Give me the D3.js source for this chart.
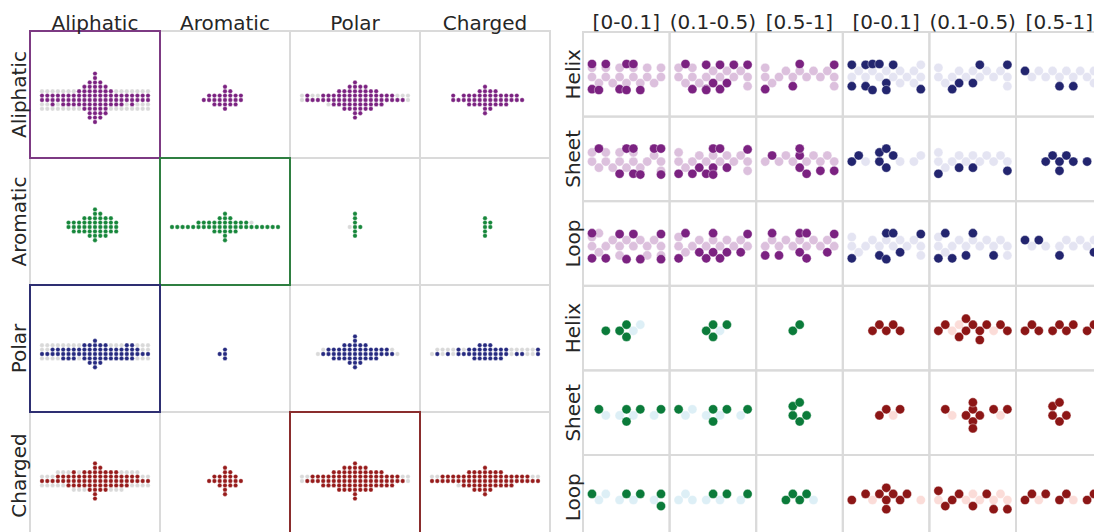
<!DOCTYPE html>
<html><head><meta charset="utf-8">
<script src="https://cdn.jsdelivr.net/npm/d3@7"></script>
<style>
body{margin:0;background:#fff}
text{font-family:"DejaVu Sans",sans-serif;fill:#262626}
</style>
</head><body>
<svg id="chart" width="1094" height="532"></svg>
<script>
// ---------- left matrix: residue group vs residue group ----------
const residueGroups = ["Aliphatic", "Aromatic", "Polar", "Charged"];
const groupColors = ["#7b2281", "#17873b", "#262a80", "#971b1b"];
const frameColors = ["#7d3a83", "#2f7f41", "#2e2f72", "#8a2d2d"];
const highlightedCells = [[0, 0], [1, 1], [2, 0], [3, 2]]; // [row, column]

// counts per value bin (0, 0.05, ..., 1); one list per column
const aliphaticBackground = [
  [5,5,5,5,5,5,5,5,5,5,5,5,5,5,5,5,5,5,5,5,5],
  [0,0,0,0,0,0,0,1,1,2,2,2,1,1,0,0,0,0,0,0,0],
  [2,2,2,2,2,3,3,3,3,3,3,3,3,3,3,3,2,2,2,2,2],
  [0,0,0,0,1,1,2,2,2,2,2,2,2,2,2,1,1,1,0,0,0]];
const aliphaticHits = [
  [2,2,3,2,3,3,3,4,6,9,12,9,7,4,3,3,2,3,2,2,2],
  [0,0,0,0,0,0,1,2,3,3,6,4,3,2,0,0,0,0,0,0,0],
  [0,2,1,1,2,2,3,4,5,6,9,7,6,5,4,3,2,2,1,1,0],
  [0,0,0,0,2,1,2,3,3,4,7,5,4,3,3,2,2,1,0,0,0]];
const aromaticBackground = [
  [0,0,0,0,0,0,1,1,2,2,2,2,2,1,1,0,0,0,0,0,0],
  [1,1,1,1,1,2,2,2,2,2,2,2,2,2,2,2,1,1,1,1,1],
  [0,0,0,0,0,0,0,0,0,1,1,0,0,0,0,0,0,0,0,0,0],
  [0,0,0,0,0,0,0,0,0,0,2,0,0,0,0,0,0,0,0,0,0]];
const aromaticHits = [
  [0,0,0,0,0,2,3,3,4,5,8,6,5,4,3,0,0,0,0,0,0],
  [1,1,1,1,1,2,2,2,3,4,7,4,3,2,2,1,1,1,1,1,1],
  [0,0,0,0,0,0,0,0,0,0,6,1,0,0,0,0,0,0,0,0,0],
  [0,0,0,0,0,0,0,0,0,0,5,2,0,0,0,0,0,0,0,0,0]];
const polarBackground = [
  [4,4,4,4,4,4,4,4,4,4,4,4,4,4,4,4,4,4,4,4,4],
  [0,0,0,0,0,0,0,0,0,0,1,0,0,0,0,0,0,0,0,0,0],
  [0,0,0,1,2,2,2,2,2,2,2,2,2,2,2,2,2,2,1,0,0],
  [1,2,2,2,2,2,2,2,2,2,2,2,2,2,2,2,2,2,2,2,2]];
const polarHits = [
  [1,1,2,2,3,3,3,2,4,5,7,5,4,3,3,3,4,4,2,1,1],
  [0,0,0,0,0,0,0,0,0,1,3,0,0,0,0,0,0,0,0,0,0],
  [0,0,0,0,1,2,3,3,4,5,8,5,4,3,3,2,2,1,0,0,0],
  [0,1,0,1,0,2,1,2,3,4,4,4,3,3,2,0,1,1,0,0,2]];
const chargedBackground = [
  [3,3,3,4,4,4,5,5,5,5,5,5,5,5,5,5,4,4,4,3,3],
  [0,0,0,0,0,0,0,0,0,1,2,1,0,0,0,0,0,0,0,0,0],
  [2,2,2,2,2,3,3,3,3,3,3,3,3,3,3,3,2,2,2,2,2],
  [2,2,2,2,2,3,3,3,3,3,3,3,3,3,3,3,2,2,2,2,2]];
const chargedHits = [
  [1,1,1,2,2,3,4,3,4,5,9,6,5,4,4,3,3,2,2,1,1],
  [0,0,0,0,0,0,0,1,2,3,7,4,3,1,0,0,0,0,0,0,0],
  [0,1,2,2,3,3,4,5,6,6,9,6,6,5,4,4,3,3,2,1,0],
  [1,1,2,2,2,2,3,4,5,5,7,5,4,4,3,3,2,2,2,1,1]];

const leftBackground = [aliphaticBackground, aromaticBackground, polarBackground, chargedBackground];
const leftHits = [aliphaticHits, aromaticHits, polarHits, chargedHits];

// ---------- right matrix: secondary structure vs exposure ----------
const exposureBins = ["[0-0.1]", "(0.1-0.5)", "[0.5-1]", "[0-0.1]", "(0.1-0.5)", "[0.5-1]"];
const structures = ["Helix", "Sheet", "Loop", "Helix", "Sheet", "Loop"];
// [top-left, top-right, bottom-left, bottom-right] blocks
const blockDark = ["#7b2281", "#23256f", "#0b7b3a", "#8c1616"];
const blockLight = ["#dcc0dd", "#e4e4f2", "#ddeff6", "#fbdcd8"];

// counts per value bin (0, 0.1, ..., 1); one list per column
const helixTopLight = [
  [2,1,2,1,2,1,2,1,2,1,2], [2,1,2,1,1,1,1,1,1,1,2], [2,1,1,1,1,1,1,1,1,1,2],
  [1,1,1,1,1,1,1,2,1,2,2], [2,1,1,1,1,1,1,1,1,1,2], [0,1,1,1,1,1,1,1,1,1,2]];
const helixTopDark = [
  [2,1,1,0,1,2,1,1,0,0,0], [0,1,1,0,3,1,2,1,1,0,1], [1,0,0,0,1,1,0,0,0,0,1],
  [2,0,2,2,1,2,1,0,0,0,1], [0,0,1,1,0,1,1,0,0,0,1], [1,0,0,0,0,1,0,1,0,0,0]];
const sheetTopLight = [
  [2,1,2,1,2,1,2,1,1,1,2], [2,1,1,1,1,1,1,1,1,1,2], [1,0,1,1,1,0,1,1,1,1,1],
  [0,0,1,0,0,0,0,1,0,1,1], [2,1,1,1,1,1,1,1,1,1,1], [0,0,0,0,0,0,0,0,0,0,0]];
const sheetTopDark = [
  [0,1,0,0,1,1,2,1,0,1,2], [1,0,1,1,1,3,1,1,0,0,1], [0,1,0,0,0,3,1,0,1,0,1],
  [1,1,0,0,2,2,1,0,0,0,0], [1,0,0,1,0,1,0,0,0,0,1], [0,0,0,1,1,2,1,1,0,1,0]];
const loopTopLight = [
  [2,2,1,1,2,1,1,1,2,1,2], [2,1,1,1,1,1,1,1,1,1,1], [1,1,1,1,1,1,1,1,1,1,1],
  [2,1,1,1,1,1,1,1,1,1,2], [2,1,1,1,1,1,1,1,1,1,2], [0,1,0,1,0,1,1,1,1,1,1]];
const loopTopDark = [
  [2,0,1,0,1,1,1,1,0,0,2], [1,1,0,1,1,2,1,1,0,1,1], [1,1,1,0,0,2,2,0,0,1,1],
  [1,0,0,0,1,2,1,1,0,0,1], [1,1,1,0,1,1,0,0,1,0,0], [1,0,1,0,0,1,0,0,0,0,1]];
const helixBottomLight = [
  [0,0,0,0,0,0,1,1,0,0,0], [0,0,0,0,0,0,1,0,0,0,0], [0,0,0,0,0,0,0,0,0,0,0],
  [0,0,0,0,0,0,0,0,0,0,0], [0,0,1,1,0,0,0,0,1,0,0], [0,0,0,0,0,0,0,0,0,0,0]];
const helixBottomDark = [
  [0,0,1,0,1,2,0,0,0,0,0], [0,0,0,0,1,2,0,1,0,0,0], [0,0,0,0,1,1,0,0,0,0,0],
  [0,0,0,1,1,1,1,1,0,0,0], [1,1,0,1,2,1,2,1,0,1,1], [1,1,1,0,1,1,1,1,0,1,1]];
const sheetBottomLight = [
  [0,0,1,0,1,0,1,0,0,1,0], [0,1,1,0,1,0,1,0,0,1,0], [0,0,0,0,0,0,0,0,0,0,0],
  [0,0,0,0,0,0,1,0,0,0,0], [0,0,1,0,0,0,0,0,0,1,0], [0,0,0,0,0,0,0,0,0,0,0]];
const sheetBottomDark = [
  [0,1,0,0,0,2,0,1,0,0,1], [1,0,0,0,0,2,0,1,0,0,1], [0,0,0,0,2,2,1,0,0,0,0],
  [0,0,0,0,1,1,0,1,0,0,0], [0,1,0,0,1,4,1,0,1,0,1], [0,0,0,0,2,2,1,0,0,0,0]];
const loopBottomLight = [
  [0,1,1,0,1,0,1,0,0,1,0], [1,1,1,0,1,0,1,0,0,1,0], [0,0,0,0,0,0,0,1,0,0,0],
  [0,0,0,1,0,0,0,0,0,0,1], [1,0,0,0,1,1,1,0,1,1,1], [0,0,1,0,0,0,0,1,0,0,0]];
const loopBottomDark = [
  [1,0,0,0,0,1,0,1,0,0,2], [0,0,0,0,0,1,0,1,0,0,1], [0,0,0,1,1,1,1,0,0,0,0],
  [1,0,1,0,1,3,1,1,1,0,0], [1,1,1,1,0,1,0,1,1,0,1], [1,1,0,1,0,1,1,0,0,1,1]];

const rightLight = [helixTopLight, sheetTopLight, loopTopLight, helixBottomLight, sheetBottomLight, loopBottomLight];
const rightDark = [helixTopDark, sheetTopDark, loopTopDark, helixBottomDark, sheetBottomDark, loopBottomDark];

// ---------- helpers ----------
function expand(counts, values, kind) {
  const out = [];
  counts.forEach((c, i) => { for (let k = 0; k < c; k++) out.push({ v: values[i], kind }); });
  return out;
}

// place points one by one as close to the centre line as possible without overlap;
// points that would land beyond the gutter are pinned to it
function beeswarm(points, x, r, gutter = Infinity) {
  const d = 2 * r, placed = [];
  for (const p of points) {
    p.x = x(p.v);
    const near = placed.filter(q => Math.abs(q.x - p.x) < d - 1e-6);
    const cands = [0];
    for (const q of near) {
      const dy = Math.sqrt(d * d - (q.x - p.x) ** 2);
      cands.push(q.y - dy, q.y + dy);
    }
    cands.sort((a, b) => Math.abs(a) - Math.abs(b) || a - b);
    let y = cands.find(c => near.every(q => (q.x - p.x) ** 2 + (q.y - c) ** 2 >= d * d - 1e-3));
    p.y = Math.max(-gutter, Math.min(gutter, y));
    placed.push(p);
  }
  return placed;
}

const svg = d3.select("#chart");

// ---------- left matrix ----------
const leftBins = d3.range(21).map(i => i / 20);
const lx = d3.scaleBand().domain(d3.range(4)).range([30, 550]);
const ly = d3.scaleBand().domain(d3.range(4)).range([31, 539]);
const leftValue = d3.scaleLinear().domain([0, 1]).range([12, lx.bandwidth() - 12]);
const leftR = 2.2;

const left = svg.append("g");
for (let r = 0; r < 4; r++) {
  for (let c = 0; c < 4; c++) {
    const g = left.append("g").attr("transform", `translate(${lx(c)},${ly(r)})`);
    g.append("rect").attr("width", lx.bandwidth()).attr("height", ly.bandwidth())
      .attr("fill", "none").attr("stroke", "#dadada").attr("stroke-width", 2);
    const cy = 69;
    const bg = beeswarm(expand(leftBackground[r][c], leftBins, "bg"), leftValue, leftR);
    const hit = beeswarm(expand(leftHits[r][c], leftBins, "hit"), leftValue, leftR);
    g.selectAll("circle.bg").data(bg).join("circle").attr("class", "bg")
      .attr("cx", d => d.x).attr("cy", d => cy + d.y).attr("r", leftR)
      .attr("fill", "#d9d9d9").attr("stroke", "#fff").attr("stroke-width", 0.3);
    g.selectAll("circle.hit").data(hit).join("circle").attr("class", "hit")
      .attr("cx", d => d.x).attr("cy", d => cy + d.y).attr("r", leftR)
      .attr("fill", groupColors[r]).attr("stroke", "#fff").attr("stroke-width", 0.3);
  }
}
highlightedCells.forEach(([r, c]) => {
  left.append("rect").attr("x", lx(c)).attr("y", ly(r))
    .attr("width", lx.bandwidth()).attr("height", ly.bandwidth())
    .attr("fill", "none").attr("stroke", frameColors[r]).attr("stroke-width", 2);
});
left.selectAll("text.col").data(residueGroups).join("text").attr("class", "col")
  .attr("x", (d, i) => lx(i) + lx.bandwidth() / 2).attr("y", 30)
  .attr("text-anchor", "middle").attr("font-size", 20).text(d => d);
left.selectAll("text.row").data(residueGroups).join("text").attr("class", "row")
  .attr("transform", (d, i) => `translate(26,${ly(i) + ly.bandwidth() / 2}) rotate(-90)`)
  .attr("text-anchor", "middle").attr("font-size", 20).text(d => d);

// ---------- right matrix ----------
const rightBins = d3.range(11).map(i => i / 10);
const rx = d3.scaleBand().domain(d3.range(6)).range([583, 1102.6]);
const ry = d3.scaleBand().domain(d3.range(6)).range([32, 539.6]);
const rightValue = d3.scaleLinear().domain([0, 1]).range([9, 78]);
const rightR = 4.6;

const right = svg.append("g");
for (let r = 0; r < 6; r++) {
  for (let c = 0; c < 6; c++) {
    const block = (r < 3 ? 0 : 2) + (c < 3 ? 0 : 1);
    const g = right.append("g").attr("transform", `translate(${rx(c)},${ry(r)})`);
    g.append("rect").attr("width", rx.bandwidth()).attr("height", ry.bandwidth())
      .attr("fill", "none").attr("stroke", "#dadada").attr("stroke-width", 2);
    const pts = beeswarm(
      expand(rightLight[r][c], rightBins, "light").concat(expand(rightDark[r][c], rightBins, "dark")),
      rightValue, rightR, 13);
    g.selectAll("circle").data(pts).join("circle")
      .attr("cx", d => d.x).attr("cy", d => 45 + d.y).attr("r", rightR)
      .attr("fill", d => d.kind === "light" ? blockLight[block] : blockDark[block])
      .attr("stroke", "#fff").attr("stroke-width", 0.4);
  }
}
right.selectAll("text.col").data(exposureBins).join("text").attr("class", "col")
  .attr("x", (d, i) => rx(i) + rx.bandwidth() / 2).attr("y", 29)
  .attr("text-anchor", "middle").attr("font-size", 20).text(d => d);
right.selectAll("text.row").data(structures).join("text").attr("class", "row")
  .attr("transform", (d, i) => `translate(580,${ry(i) + ry.bandwidth() / 2}) rotate(-90)`)
  .attr("text-anchor", "middle").attr("font-size", 20).text(d => d);
</script>
</body></html>
